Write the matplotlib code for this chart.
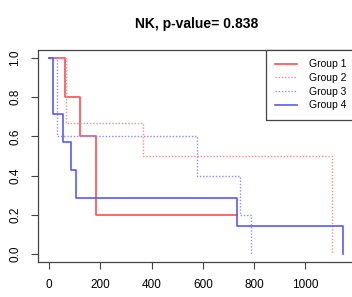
import numpy as np
import matplotlib.pyplot as plt

plt.rcParams['font.family'] = ['Liberation Sans', 'DejaVu Sans']

# Kaplan-Meier step curves
t1 = [0, 61, 120, 182, 732]
s1 = [1.0, 0.8, 0.6, 0.2, 0.2]
t2 = [0, 64, 365, 1103]
s2 = [1.0, 0.667, 0.5, 0.0]
t3 = [0, 29, 576, 745, 788]
s3 = [1.0, 0.6, 0.4, 0.2, 0.0]
t4 = [0, 16, 55, 83, 104, 732, 1148]
s4 = [1.0, 0.714, 0.571, 0.429, 0.286, 0.143, 0.0]
labels = ["Group 1", "Group 2", "Group 3", "Group 4"]

red = (1.0, 0.3, 0.3)
blue = (0.35, 0.35, 1.0)
red_l = (1.0, 0.55, 0.55)
blue_l = (0.55, 0.55, 1.0)
dot = (0, (1, 1.3))

fig = plt.figure(figsize=(3.52, 2.97), dpi=100)
ax = fig.add_axes([38/352, 35/297, 317.5/352, 212/297])

ax.step(t1, s1, where='post', color=red, lw=1.2, label=labels[0])
ax.step(t2, s2, where='post', color=red_l, lw=1.0, ls=dot, label=labels[1])
ax.step(t3, s3, where='post', color=blue_l, lw=1.0, ls=dot, label=labels[2])
ax.step(t4, s4, where='post', color=blue, lw=1.2, label=labels[3])

ax.set_xlim(-44, 1196)
ax.set_ylim(-0.04, 1.04)
ax.set_xticks(np.arange(0, 1001, 200))
ax.set_yticks(np.arange(0, 1.01, 0.2))
ax.set_yticklabels(["0.0", "0.2", "0.4", "0.6", "0.8", "1.0"], rotation=90, va='center')
ax.tick_params(labelsize=8.5, length=5, width=0.8, color='#444', pad=7)
for sp in ax.spines.values():
    sp.set_color('#444')
    sp.set_linewidth(0.9)

ax.set_title("NK, p-value= 0.838", fontsize=10, fontweight='bold', pad=16)

leg = ax.legend(loc='upper right', bbox_to_anchor=(1, 1), borderaxespad=0,
                fancybox=False, edgecolor='#444', fontsize=7.5, framealpha=1,
                handlelength=2.1, handletextpad=1.1, labelspacing=0.35, borderpad=0.9)
leg.get_frame().set_linewidth(0.9)

fig.savefig("out.png", dpi=100)
